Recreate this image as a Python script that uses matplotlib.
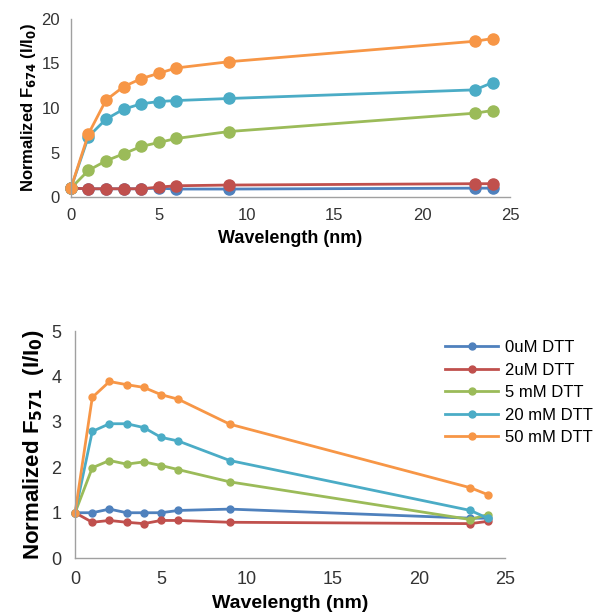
import matplotlib
matplotlib.use("Agg")
import matplotlib.pyplot as plt

#%% Data

x = [0, 1, 2, 3, 4, 5, 6, 9, 23, 24]
labels = ["0uM DTT", "2uM DTT", "5 mM DTT", "20 mM DTT", "50 mM DTT"]
colors = ["#4F81BD", "#C0504D", "#9BBB59", "#4BACC6", "#F79646"]

# top panel, F674
top_0uM = [1.0, 0.93, 0.93, 0.93, 0.93, 1.0, 0.9, 0.9, 1.0, 1.0]
top_2uM = [1.0, 0.93, 0.93, 0.93, 0.93, 1.12, 1.27, 1.35, 1.5, 1.5]
top_5mM = [1.0, 3.0, 4.07, 4.86, 5.68, 6.13, 6.58, 7.36, 9.42, 9.72]
top_20mM = [1.0, 6.8, 8.75, 9.87, 10.47, 10.73, 10.84, 11.07, 12.04, 12.86]
top_50mM = [1.0, 7.1, 10.9, 12.4, 13.3, 13.9, 14.5, 15.2, 17.5, 17.8]

# bottom panel, F571
bot_0uM = [1.0, 1.0, 1.08, 1.0, 1.0, 1.0, 1.05, 1.08, 0.88, 0.88]
bot_2uM = [1.0, 0.79, 0.83, 0.79, 0.76, 0.83, 0.83, 0.79, 0.76, 0.81]
bot_5mM = [1.0, 1.99, 2.15, 2.07, 2.12, 2.04, 1.95, 1.68, 0.85, 0.96]
bot_20mM = [1.0, 2.79, 2.96, 2.96, 2.875, 2.66, 2.58, 2.15, 1.05, 0.88]
bot_50mM = [1.0, 3.54, 3.89, 3.82, 3.76, 3.6, 3.5, 2.95, 1.55, 1.40]

top_series = [top_0uM, top_2uM, top_5mM, top_20mM, top_50mM]
bot_series = [bot_0uM, bot_2uM, bot_5mM, bot_20mM, bot_50mM]

#%% Plot

plt.rcParams["font.family"] = ["Liberation Sans", "DejaVu Sans"]

fig = plt.figure(figsize=(5.96, 6.12), dpi=100)
ax1 = fig.add_axes([0.119, 0.678, 0.737, 0.291])
ax2 = fig.add_axes([0.126, 0.088, 0.721, 0.371])


def style(ax, size, xpad, ypad):
    for s in ["top", "right"]:
        ax.spines[s].set_visible(False)
    for s in ["left", "bottom"]:
        ax.spines[s].set_color("#A0A0A0")
        ax.spines[s].set_linewidth(1.0)
    ax.tick_params(length=0, labelsize=size, colors="#333333")
    ax.tick_params(axis="x", pad=xpad)
    ax.tick_params(axis="y", pad=ypad)
    ax.set_xlim(0, 25)
    ax.set_xticks([0, 5, 10, 15, 20, 25])


for ys, c, lab in zip(top_series, colors, labels):
    ax1.plot(x, ys, color=c, lw=2, marker="o", ms=8, label=lab, clip_on=False)
style(ax1, 12, 8, 8)
ax1.set_ylim(0, 20)
ax1.set_yticks([0, 5, 10, 15, 20])
ax1.set_xlabel("Wavelength (nm)", fontsize=13, fontweight="bold", labelpad=5)
ax1.set_ylabel(r"Normalized F$_{\mathbf{674}}$ (I/I$_\mathbf{0}$)", fontsize=12,
               fontweight="bold", labelpad=2)

for ys, c, lab in zip(bot_series, colors, labels):
    ax2.plot(x, ys, color=c, lw=2, marker="o", ms=8, label=lab, clip_on=False)
style(ax2, 13, 9, 10)
ax2.set_ylim(0, 5)
ax2.set_yticks([0, 1, 2, 3, 4, 5])
ax2.set_xlabel("Wavelength (nm)", fontsize=14, fontweight="bold", labelpad=5)
ax2.set_ylabel(r"Normalized F$_{\mathbf{571}}$  (I/I$_\mathbf{0}$)", fontsize=16,
               fontweight="bold", labelpad=4)

handles, lbls = ax2.get_legend_handles_labels()
for h in handles:
    h.set_markersize(5)
ax2.legend(handles, lbls, loc="upper left", bbox_to_anchor=(0.845, 0.99),
           frameon=False, fontsize=12, handlelength=3.2, labelspacing=0.45,
           handletextpad=0.4, borderaxespad=0)

fig.savefig("out.png", dpi=100)
